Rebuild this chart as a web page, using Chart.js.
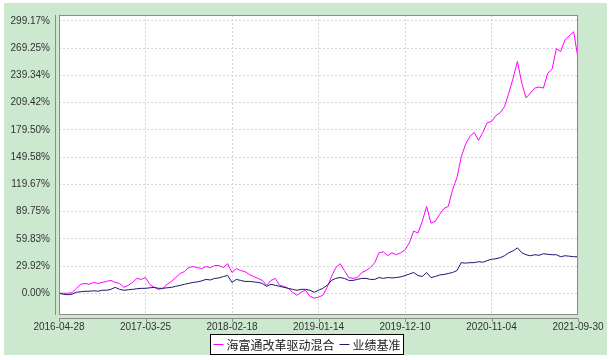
<!DOCTYPE html>
<html>
<head>
<meta charset="utf-8">
<script src="https://cdn.jsdelivr.net/npm/chart.js@4.4.1/dist/chart.umd.min.js"></script>
<style>
  html, body { margin: 0; padding: 0; background: #fff; }
  #wrap { width: 611px; height: 360px; }
</style>
</head>
<body>
<div id="wrap"><canvas id="navChart" width="611" height="360"></canvas></div>
<script>
// series names
const fundName = '海富通改革驱动混合';
const benchName = '业绩基准';

// x axis: 121 sample points, dates shown every 20 points
const xTickIdx = [0, 20, 40, 60, 80, 100, 120];
const xTickLabels = ['2016-04-28', '2017-03-25', '2018-02-18', '2019-01-14', '2019-12-10', '2020-11-04', '2021-09-30'];

// y axis ticks (%)
const yTicks = [0, 29.92, 59.83, 89.75, 119.67, 149.58, 179.50, 209.42, 239.34, 269.25, 299.17];
const yMin = -22.8;
const yMax = 305.7;

// cumulative return of the fund (%)
const fundValues = [
    0, 0, 0, 0.5, 5.4, 9.8, 10.8, 9.8, 11.9, 10.8,
    11.9, 13, 14.1, 11.9, 10.8, 6.5, 8.7, 11.9, 16.3, 15.2,
    17.3, 9.8, 6.5, 4.3, 5.4, 9.8, 13, 17.3, 21.7, 23.8,
    28.2, 29.3, 28.2, 27.1, 29.3, 28.2, 30.4, 30.4, 28.2, 32.5,
    22.8, 27.1, 24.9, 23.8, 20.6, 18.4, 16.3, 14.1, 8.7, 14.1,
    16.3, 8.7, 7.6, 5.4, 1.1, -2.2, 1.1, 3.3, -3.3, -5.4,
    -4.3, -2.2, 6.5, 18.4, 28.2, 32.5, 24.9, 17.3, 16.3, 17.3,
    22.8, 24.9, 28.2, 33.6, 44.5, 45.5, 41.2, 44.5, 42.3, 44.5,
    47.7, 55.3, 68.3, 66.1, 79.1, 95.4, 77, 79.1, 86.7, 93.2,
    95.4, 113.8, 126.8, 149.6, 163.7, 172.4, 176.7, 168, 176.7, 187.5,
    188.6, 195.1, 198.4, 204.9, 220, 236.3, 254.7, 230.9, 214.6, 220,
    225.4, 226.6, 225.4, 241.7, 246.1, 268.8, 265.6, 278.6, 282.9, 287.3,
    258
];

// cumulative return of the benchmark (%)
const benchValues = [
    0, -1.1, -1.6, -1.1, 1.1, 1.6, 2.2, 2.2, 2.7, 2.2,
    3.3, 3.3, 4.3, 6.5, 4.3, 3.3, 3.8, 4.3, 4.9, 5.4,
    5.4, 6.0, 6.5, 5.4, 5.4, 6.0, 6.5, 7.6, 8.7, 9.8,
    10.8, 11.9, 12.5, 13.6, 15.2, 14.6, 16.3, 16.8, 18.4, 19.5,
    11.9, 15.2, 14.1, 13, 13, 12.5, 11.9, 10.8, 7.6, 9.8,
    8.7, 7.6, 6.5, 5.4, 4.3, 3.3, 4.3, 4.3, 3.3, 1.1,
    3.3, 5.4, 8.7, 14.1, 16.3, 17.3, 16.3, 14.1, 14.1, 15.2,
    16.3, 16.3, 15.2, 15.2, 17.3, 16.3, 17.3, 16.8, 17.3, 17.9,
    19.5, 21.1, 22.8, 19.5, 18.4, 22.8, 17.3, 18.4, 20.1, 20.6,
    21.7, 22.8, 24.9, 33.6, 33.1, 33.6, 33.6, 34.7, 34.1, 35.8,
    37.4, 37.9, 39, 41.2, 44.5, 46.6, 49.9, 44.5, 42.3, 41.2,
    42.3, 41.7, 43.4, 42.8, 42.3, 42.3, 40.1, 41.2, 40.7, 40.1,
    40.1
];

const toPoints = (values) => values.map((v, i) => ({ x: i, y: v }));

const frame = {
    id: 'frame',
    beforeDraw(chart) {
        const { ctx, chartArea: a } = chart;
        ctx.save();
        ctx.fillStyle = '#ffffff';
        ctx.fillRect(0, 0, chart.width, chart.height);
        ctx.fillStyle = '#cce8cf';
        ctx.fillRect(4, 3, 603, 352);
        ctx.fillStyle = '#ffffff';
        ctx.fillRect(a.left, a.top, a.right - a.left, a.bottom - a.top);
        ctx.restore();
    },
    afterDraw(chart) {
        const { ctx, chartArea: a } = chart;
        const xs = chart.scales.x;
        ctx.save();
        // plot border
        ctx.strokeStyle = '#8c8c8c';
        ctx.lineWidth = 1;
        ctx.strokeRect(a.left + 0.5, a.top + 0.5, a.right - a.left - 1, a.bottom - a.top);
        // separate axis lines
        ctx.beginPath();
        ctx.moveTo(55.5, a.top);
        ctx.lineTo(55.5, a.bottom + 1);
        ctx.moveTo(a.left, 318.5);
        ctx.lineTo(a.right, 318.5);
        xTickIdx.forEach(i => {
            const px = Math.round(xs.getPixelForValue(i)) + 0.5;
            ctx.moveTo(px, 318.5);
            ctx.lineTo(px, 322);
        });
        ctx.stroke();

        // legend
        ctx.font = '12px "Noto Sans CJK SC", sans-serif';
        ctx.textBaseline = 'middle';
        const items = [
            { color: '#ff00ff', text: fundName },
            { color: '#191970', text: benchName }
        ];
        const mark = 10, gap = 3, sep = 5;
        let total = 0;
        items.forEach(it => { it.w = ctx.measureText(it.text).width; total += mark + gap + it.w; });
        total += sep;
        const boxW = total + 6, boxH = 20;
        const cx = 307, cy = 344;
        const bx = Math.round(cx - boxW / 2) + 0.5, by = Math.round(cy - boxH / 2) + 0.5;
        ctx.fillStyle = '#ffffff';
        ctx.fillRect(bx, by, boxW, boxH);
        ctx.strokeStyle = '#000000';
        ctx.strokeRect(bx, by, boxW, boxH);
        let x = bx + 3;
        items.forEach(it => {
            ctx.strokeStyle = it.color;
            ctx.beginPath();
            ctx.moveTo(x, cy + 0.5);
            ctx.lineTo(x + mark, cy + 0.5);
            ctx.stroke();
            x += mark + gap;
            ctx.fillStyle = '#222222';
            ctx.fillText(it.text, x, cy + 1);
            x += it.w + sep;
        });
        ctx.restore();
    }
};

new Chart(document.getElementById('navChart'), {
    type: 'line',
    data: {
        datasets: [{
            label: fundName,
            data: toPoints(fundValues),
            borderColor: '#ff00ff',
            borderWidth: 1,
            pointRadius: 0,
            tension: 0,
            order: 1
        }, {
            label: benchName,
            data: toPoints(benchValues),
            borderColor: '#191970',
            borderWidth: 1,
            pointRadius: 0,
            tension: 0,
            order: 0
        }]
    },
    options: {
        responsive: false,
        animation: false,
        events: [],
        layout: { padding: { left: 0, right: 33, top: 11, bottom: 0 } },
        plugins: {
            legend: { display: false },
            tooltip: { enabled: false }
        },
        scales: {
            x: {
                type: 'linear',
                min: 0,
                max: fundValues.length - 1,
                afterFit: s => { s.height = 46; },
                afterBuildTicks: s => { s.ticks = xTickIdx.map(v => ({ value: v })); },
                border: { display: false, dash: [2, 2] },
                grid: { color: '#d4d4d4', drawTicks: false },
                ticks: {
                    padding: 7,
                    maxRotation: 0,
                    autoSkip: false,
                    color: '#333333',
                    font: { family: '"Liberation Sans", Arial, sans-serif', size: 10 },
                    callback: (v, i) => xTickLabels[i]
                }
            },
            y: {
                min: yMin,
                max: yMax,
                afterFit: s => { s.width = 59; },
                afterBuildTicks: s => { s.ticks = yTicks.map(v => ({ value: v })); },
                border: { display: false, dash: [2, 2] },
                grid: { color: '#d4d4d4', drawTicks: false },
                ticks: {
                    padding: 9,
                    color: '#333333',
                    font: { family: '"Liberation Sans", Arial, sans-serif', size: 10 },
                    callback: v => v.toFixed(2) + '%'
                }
            }
        }
    },
    plugins: [frame]
});
</script>
</body>
</html>
